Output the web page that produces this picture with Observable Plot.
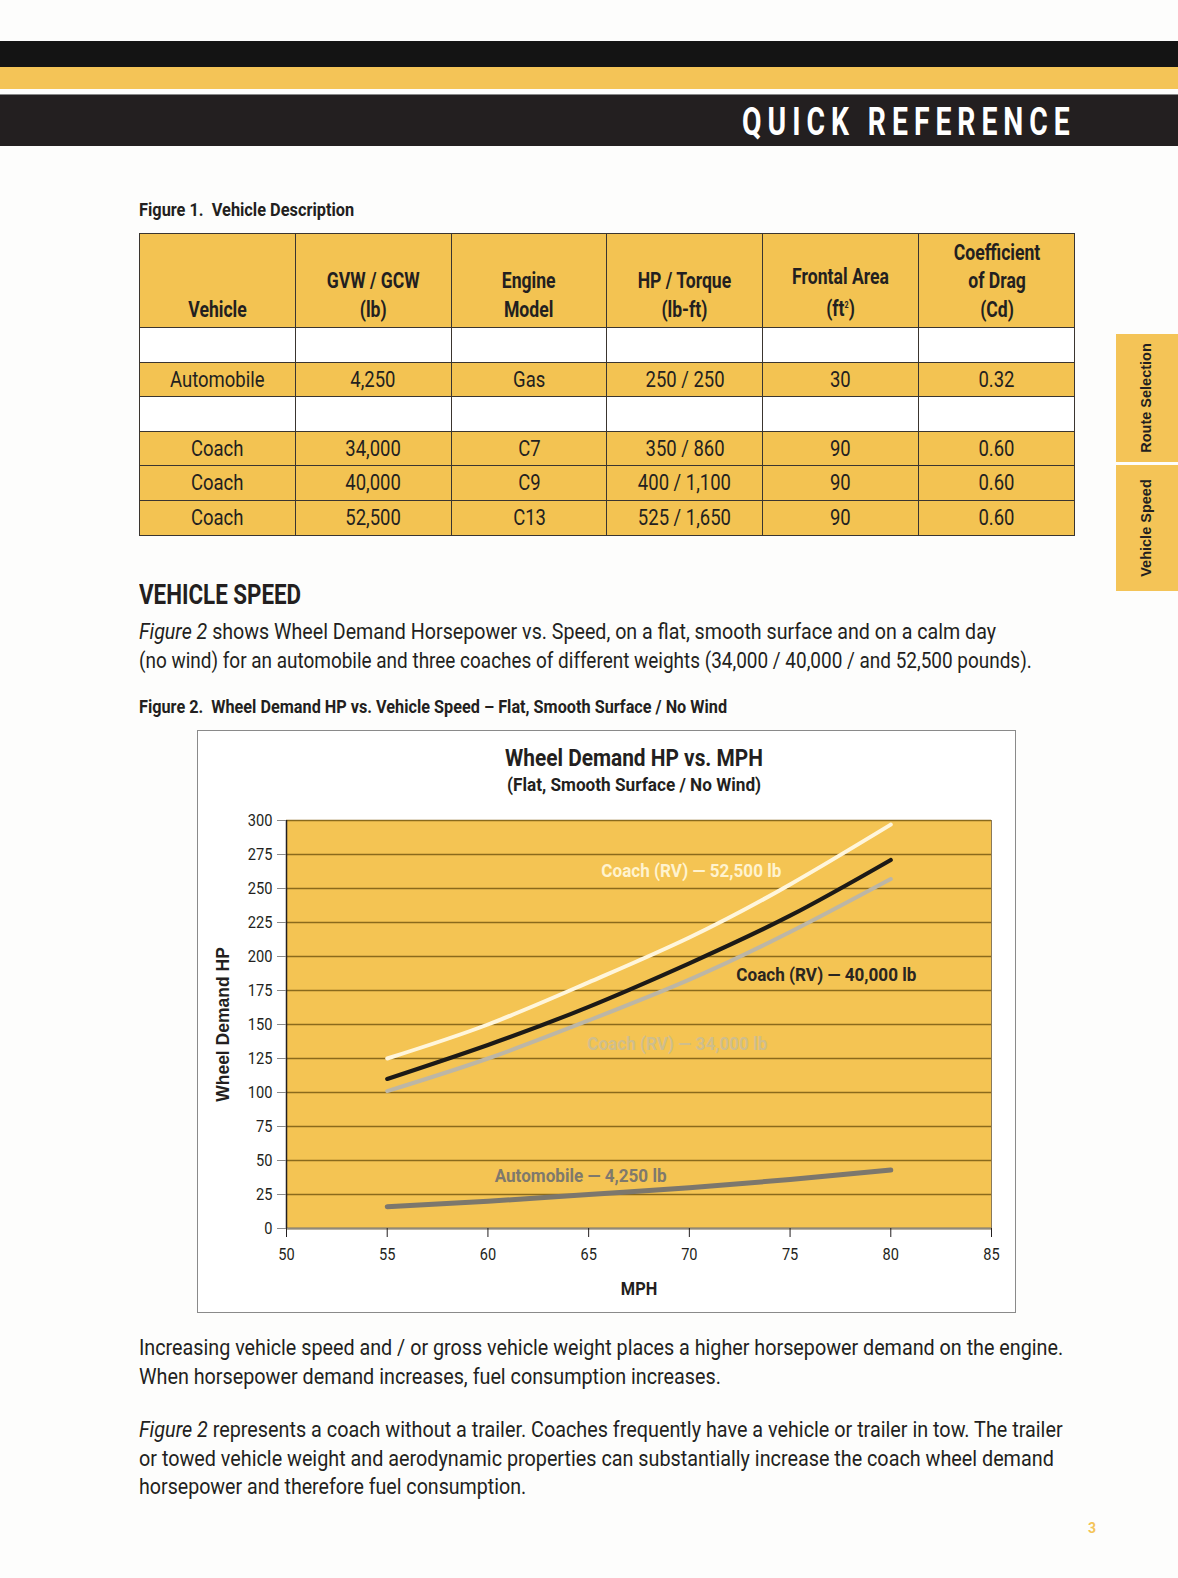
<!DOCTYPE html>
<html>
<head>
<meta charset="utf-8">
<script src="https://cdn.jsdelivr.net/npm/d3@7"></script>
<script src="https://cdn.jsdelivr.net/npm/@observablehq/plot@0.6"></script>
<style>
  html, body { margin: 0; padding: 0; background: #fdfdfc; }
  body { width: 1178px; height: 1578px; position: relative; overflow: hidden;
         font-family: Roboto, "Liberation Sans", sans-serif; color: #231f20; }
  .abs { position: absolute; white-space: nowrap; }
  .band1 { left: 0; top: 41px; width: 1178px; height: 26px; background: #141414; }
  .band2 { left: 0; top: 67px; width: 1178px; height: 22px; background: #f4c457; }
  .band3 { left: 0; top: 94px; width: 1178px; height: 52px; background: #231f20; border-top: 1px solid #888; box-sizing: border-box; }
  .qr { top: 101px; font-size: 38px; line-height: 42px; font-weight: bold; letter-spacing: 8px; color: #fff; }
  .figlabel { font-weight: bold; font-size: 19px; line-height: 24px; }
  table { border-collapse: collapse; position: absolute; left: 139px; top: 233px; width: 936px; table-layout: fixed; }
  td, th { border: 1.5px solid #3a3530; background: #f3c352; text-align: center; padding: 0; overflow: visible; }
  th { font-weight: bold; font-size: 22px; line-height: 28.5px; height: 90px; vertical-align: bottom; padding-bottom: 3px; }
  th span { display: inline-block; transform: scaleX(0.8); transform-origin: center; white-space: nowrap; }
  td { font-size: 22px; height: 33.6px; line-height: 33.6px; }
  td span { display: inline-block; transform: scaleX(0.84); transform-origin: center; white-space: nowrap; }
  tr.blank td { background: #ffffff; }
  .h2 { font-size: 28px; line-height: 32px; font-weight: bold; }
  .para { font-size: 22px; line-height: 29px; }
  .tab { left: 1116px; width: 62px; background: #f4c457; }
  .tab span { position: absolute; top: 50%; transform: translate(0, -50%) rotate(-90deg); transform-origin: center; white-space: nowrap; font-family: "Liberation Sans", Arial, sans-serif; font-weight: bold; font-size: 14.5px; }
  .box { left: 197px; top: 730px; width: 819px; height: 583px; border: 1.5px solid #8a8a8a; box-sizing: border-box; background: #fff; }
  .ctitle { font-weight: bold; }
</style>
</head>
<body>
<div class="abs band1"></div>
<div class="abs band2"></div>
<div class="abs band3"></div>
<div class="abs qr fit" data-x="1076" data-w="334" data-align="right">QUICK REFERENCE</div>

<div class="abs tab" style="top:334px;height:128px;"><span style="left:-25px;">Route Selection</span></div>
<div class="abs tab" style="top:465px;height:126px;"><span style="left:-19px;">Vehicle Speed</span></div>

<div class="abs figlabel fit" data-x="139" data-w="215" style="top:198px;">Figure 1.&nbsp; Vehicle Description</div>
<table id="tbl"></table>

<div class="abs h2 fit" data-x="139" data-w="162" style="top:579px;">VEHICLE SPEED</div>
<div class="abs para fit" data-x="139" data-w="857" style="top:617px;"><i>Figure 2</i> shows Wheel Demand Horsepower vs. Speed, on a flat, smooth surface and on a calm day</div>
<div class="abs para fit" data-x="139" data-w="893" style="top:646px;">(no wind) for an automobile and three coaches of different weights (34,000 / 40,000 / and 52,500 pounds).</div>
<div class="abs figlabel fit" data-x="139" data-w="588" style="top:695px;">Figure 2.&nbsp; Wheel Demand HP vs. Vehicle Speed – Flat, Smooth Surface / No Wind</div>

<div class="abs box" id="box">
  <div class="abs ctitle fit" data-x="435.5" data-w="258" data-align="center" style="top:12px; font-size:24px; line-height:30px;">Wheel Demand HP vs. MPH</div>
  <div class="abs ctitle fit" data-x="435.5" data-w="254" data-align="center" style="top:41.5px; font-size:19px; line-height:24px;">(Flat, Smooth Surface / No Wind)</div>
  <div class="abs" id="chart" style="left:0; top:69px;"></div>
</div>

<div class="abs para fit" data-x="139" data-w="924" style="top:1333px;">Increasing vehicle speed and / or gross vehicle weight places a higher horsepower demand on the engine.</div>
<div class="abs para fit" data-x="139" data-w="582" style="top:1362px;">When horsepower demand increases, fuel consumption increases.</div>
<div class="abs para fit" data-x="139" data-w="924" style="top:1415px;"><i>Figure 2</i> represents a coach without a trailer. Coaches frequently have a vehicle or trailer in tow. The trailer</div>
<div class="abs para fit" data-x="139" data-w="915" style="top:1444px;">or towed vehicle weight and aerodynamic properties can substantially increase the coach wheel demand</div>
<div class="abs para fit" data-x="139" data-w="387" style="top:1472px;">horsepower and therefore fuel consumption.</div>
<div class="abs" style="left:1088px; top:1520px; font-size:14px; font-weight:bold; color:#f4c457;">3</div>

<script>
// ---- Figure 1 table data ----
const tableHeaders = ["Vehicle", "GVW / GCW<br>(lb)", "Engine<br>Model", "HP / Torque<br>(lb-ft)", "Frontal Area<br>(ft<sup style='font-size:9px'>2</sup>)", "Coefficient<br>of Drag<br>(Cd)"];
const vehicles     = ["", "Automobile", "", "Coach", "Coach", "Coach"];
const gvw          = ["", "4,250", "", "34,000", "40,000", "52,500"];
const engines      = ["", "Gas", "", "C7", "C9", "C13"];
const hpTorque     = ["", "250 / 250", "", "350 / 860", "400 / 1,100", "525 / 1,650"];
const frontalArea  = ["", "30", "", "90", "90", "90"];
const dragCoef     = ["", "0.32", "", "0.60", "0.60", "0.60"];

// ---- Figure 2 chart data ----
const mph        = [55, 60, 65, 70, 75, 80];
const coach52500 = [125, 150, 181, 214, 253, 297];
const coach40000 = [110, 135, 163, 195, 230, 271];
const coach34000 = [101, 125, 153, 183, 218, 257];
const automobile = [16, 20, 25, 30, 36, 43];
const seriesNames  = ["Coach (RV) — 52,500 lb", "Coach (RV) — 40,000 lb", "Coach (RV) — 34,000 lb", "Automobile — 4,250 lb"];
const labelMph     = [70.1, 76.8, 69.4, 64.6];
const labelHp      = [263, 186.5, 136, 39];
const xTicks = [50, 55, 60, 65, 70, 75, 80, 85];
const yTicks = [0, 25, 50, 75, 100, 125, 150, 175, 200, 225, 250, 275, 300];

// build table
const tbl = document.getElementById("tbl");
let html = "<tr>" + tableHeaders.map(h => `<th><span>${h}</span></th>`).join("") + "</tr>";
vehicles.forEach((v, i) => {
  const cells = [v, gvw[i], engines[i], hpTorque[i], frontalArea[i], dragCoef[i]];
  html += `<tr class="${v === "" ? "blank" : ""}">` + cells.map(c => `<td><span>${c}</span></td>`).join("") + "</tr>";
});
tbl.innerHTML = html;

// build chart data
const lineColors = ["#fff6dc", "#1c1a17", "#bcb6a6", "#7c776d"];
const lineWidths = [4, 4.2, 4, 5];
const labelColors = ["#fff3cf", "#2a2620", "#cfbe8c", "#7f796c"];
const seriesVals = [coach52500, coach40000, coach34000, automobile];
const rows = [];
seriesVals.forEach((vals, s) => vals.forEach((v, i) => rows.push({series: seriesNames[s], mph: mph[i], hp: v})));
const labels = seriesNames.map((n, i) => ({series: n, mph: labelMph[i], hp: labelHp[i], color: labelColors[i]}));

const font = `Roboto, "Liberation Sans", sans-serif`;
const marks = [
  Plot.frame({fill: "#f4c453", stroke: null}),
  Plot.gridY(yTicks, {stroke: "#8a6a1c", strokeOpacity: 1, strokeWidth: 1.6}),
  Plot.ruleY([0], {stroke: "#8f8a7e", strokeWidth: 2}),
  Plot.ruleX([85], {stroke: "#8a7a5a", strokeWidth: 1}),
  Plot.ruleX([50], {stroke: "#231f20", strokeWidth: 1.5}),
  Plot.axisY(yTicks, {tickSize: 9, tickPadding: 5, stroke: "#8a8a8a", fontSize: 17, fill: "#231f20", label: null}),
  Plot.axisX(xTicks, {tickSize: 9, tickPadding: 10, stroke: "#231f20", fontSize: 17, fill: "#231f20", label: null})
];
seriesNames.forEach((n, s) => {
  marks.push(Plot.line(rows.filter(d => d.series === n), {x: "mph", y: "hp", stroke: lineColors[s], strokeWidth: lineWidths[s], curve: "natural", strokeLinecap: "round"}));
});
marks.push(Plot.text(labels, {x: "mph", y: "hp", text: "series", fill: "color", fontSize: 19, fontWeight: "bold", fontFamily: font, className: "slab"}));
marks.push(Plot.text(["MPH"], {frameAnchor: "bottom", dy: 66, fontSize: 19, fontWeight: "bold", fontFamily: font, fill: "#231f20"}));
marks.push(Plot.text(["Wheel Demand HP"], {frameAnchor: "left", textAnchor: "middle", rotate: -90, dx: -63, fontSize: 17.5, fontWeight: "bold", fontFamily: `"Liberation Sans", Arial, sans-serif`, fill: "#231f20", className: "ylab"}));

const chart = Plot.plot({
  width: 816,
  height: 512,
  marginLeft: 88,
  marginRight: 23,
  marginTop: 20,
  marginBottom: 84,
  style: {background: "transparent", fontFamily: font, fontSize: "17px", color: "#231f20", overflow: "visible"},
  x: {domain: [50, 85], label: null},
  y: {domain: [0, 300], label: null},
  marks
});
document.getElementById("chart").appendChild(chart);

// condense SVG text (reference uses a condensed typeface)
function condenseSvg() {
  chart.querySelectorAll("text").forEach(t => {
    if (t.closest(".ylab")) return;
    const k = t.closest(".slab") ? 0.9 : 0.86;
    t.removeAttribute("textLength");
    const len = t.getComputedTextLength();
    if (len > 0) {
      t.setAttribute("textLength", (len * k).toFixed(1));
      t.setAttribute("lengthAdjust", "spacingAndGlyphs");
    }
  });
}
// fit HTML lines to reference widths
function fitHtml() {
  document.querySelectorAll(".fit").forEach(el => {
    el.style.transform = "none";
    const w = el.offsetWidth;
    const target = +el.dataset.w, x = +el.dataset.x, align = el.dataset.align || "left";
    const k = target / w;
    el.style.transformOrigin = "left center";
    el.style.transform = `scaleX(${k})`;
    el.style.left = (align === "right" ? x - target : align === "center" ? x - target / 2 : x) + "px";
  });
}
condenseSvg(); fitHtml();
if (document.fonts && document.fonts.ready) document.fonts.ready.then(() => { condenseSvg(); fitHtml(); });
</script>
</body>
</html>
